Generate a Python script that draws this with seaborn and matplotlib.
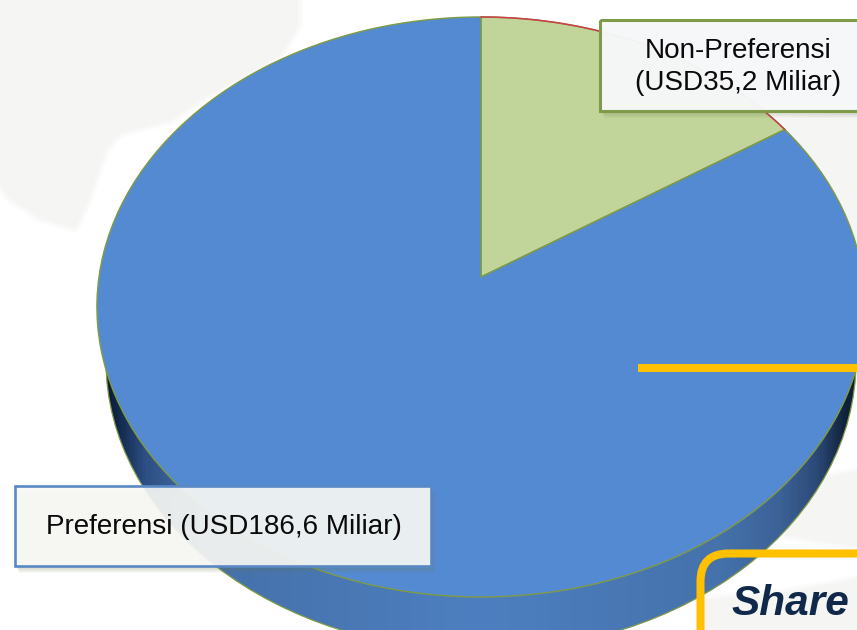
import numpy as np
import matplotlib
matplotlib.use('Agg')
import matplotlib.pyplot as plt
import seaborn as sns
from matplotlib.patches import Ellipse, FancyBboxPatch, Polygon, Rectangle
from matplotlib.transforms import Transform

#data
labels = ['Non-Preferensi\n(USD35,2 Miliar)', 'Preferensi (USD186,6 Miliar)']
values = [35.2, 186.6]
share_title = 'Share'

#colors
green = '#c1d49a'
blue = '#538ad1'
olive = '#7f9a48'
red = '#cc3f45'
yellow = '#ffc000'
navy = '#10294a'
grey = '#f5f5f4'

sns.set_theme(style='white')
plt.rcParams['font.family'] = ['Liberation Sans', 'DejaVu Sans']


#perspective of the pie top: unit circle -> picture pixels
class Perspective(Transform):
    input_dims = 2
    output_dims = 2
    is_separable = False

    def transform_non_affine(self, xy):
        xy = np.asarray(xy, dtype=float)
        w = 1 + 0.1034 * xy[:, 1]
        return np.column_stack((481 + 382 * xy[:, 0] / w,
                                277 - 286.9 * xy[:, 1] / w))


fig, ax = plt.subplots(figsize=(8.57, 6.30), dpi=100)
fig.subplots_adjust(0, 0, 1, 1)

proj = Perspective() + ax.transData

#pie top
wedges, _ = ax.pie(values, startangle=90, counterclock=False,
                   colors=sns.color_palette([green, blue]),
                   wedgeprops={'edgecolor': olive, 'linewidth': 1.05})
for w in wedges:
    w.set_transform(proj)
    w.set_clip_on(False)
    w.set_zorder(3)

ax.set_aspect('auto')
ax.axis('off')


#faint world map behind, edges a bit soft
def map_patch(points):
    for lw, a in [(7, 0.3), (3, 0.45), (0, 1)]:
        ax.add_patch(Polygon(points, fc=grey, ec=grey if lw else 'none', lw=lw, alpha=a,
                             joinstyle='round', zorder=0))


map_patch([(-9, -9), (298, -9), (298, 25), (280, 55), (200, 100), (170, 120), (120, 133),
           (105, 150), (88, 200), (75, 228), (40, 218), (10, 198), (-9, 172)])
map_patch([(770, 120), (866, 112), (866, 380), (835, 380), (790, 250)])
map_patch([(866, 470), (825, 478), (795, 515), (785, 535), (866, 548)])
map_patch([(705, 600), (790, 592), (866, 578), (866, 640), (705, 640)])

#pie side, dark at both ends
rim = Ellipse((481, 361), 750, 580, fc='none', ec=olive, lw=0.9, zorder=2)
ax.add_patch(rim)
grad_x = [0, 0.015, 0.05, 0.12, 0.5, 0.82, 0.9, 0.95, 0.985, 1]
grad_c = ['#0b1c33', '#122a4e', '#2d4f83', '#4570a8', '#4d7fc0', '#4572ab', '#3c6297', '#2c4a78', '#13263f', '#0b1c33']
cmap = matplotlib.colors.LinearSegmentedColormap.from_list('rim', list(zip(grad_x, grad_c)))
img = ax.imshow(np.linspace(0, 1, 600).reshape(1, -1), cmap=cmap, aspect='auto',
                extent=(106, 856, 660, 340), zorder=1)
img.set_clip_path(Ellipse((481, 361), 750, 580, transform=ax.transData))
ax.set_xlim(0, 857)
ax.set_ylim(630, 0)

#red arc of the small slice
t = np.radians(np.linspace(0, 360 * values[0] / sum(values), 100))
ax.plot(np.sin(t), np.cos(t), color=red, lw=1.1, transform=proj, zorder=4)


#label box with soft shadow
def label_box(x0, y0, x1, y1, edge, face, alpha, lw):
    for i in range(6):
        ax.add_patch(Rectangle((x0 + 1 + i * 0.7, y0 + 2 + i), x1 - x0, y1 - y0,
                               fc='#6d7f50', ec='none', alpha=0.05, zorder=5))
    ax.add_patch(Rectangle((x0, y0), x1 - x0, y1 - y0, fc=face, ec='none', alpha=alpha, zorder=6))
    ax.add_patch(Rectangle((x0, y0), x1 - x0, y1 - y0, fc='none', ec=edge, lw=lw, zorder=7))


label_box(600, 20, 875, 111, olive, '#f8f9fb', 0.96, 2.2)
label_box(15, 486, 431, 566, '#5a88c4', '#fafaf8', 0.9, 1.9)

ax.text(738, 67, labels[0], ha='center', va='center', fontsize=20.1,
        color='#0a0a0a', linespacing=1.25, zorder=8)
ax.text(224, 526.5, labels[1], ha='center', va='center', fontsize=20.1,
        color='#0a0a0a', zorder=8)

#yellow line and frame
ax.plot([638, 857], [368, 368], color=yellow, lw=5.8, solid_capstyle='butt', zorder=9)
ax.add_patch(FancyBboxPatch((700.5, 553.5), 300, 200, boxstyle='round,pad=0,rounding_size=28',
                            fc='none', ec=yellow, lw=5.8, zorder=9))
ax.text(731, 615, share_title, fontsize=30.5, fontweight='bold', fontstyle='italic',
        color=navy, ha='left', va='baseline', zorder=10)

fig.savefig('out.png', dpi=100)
